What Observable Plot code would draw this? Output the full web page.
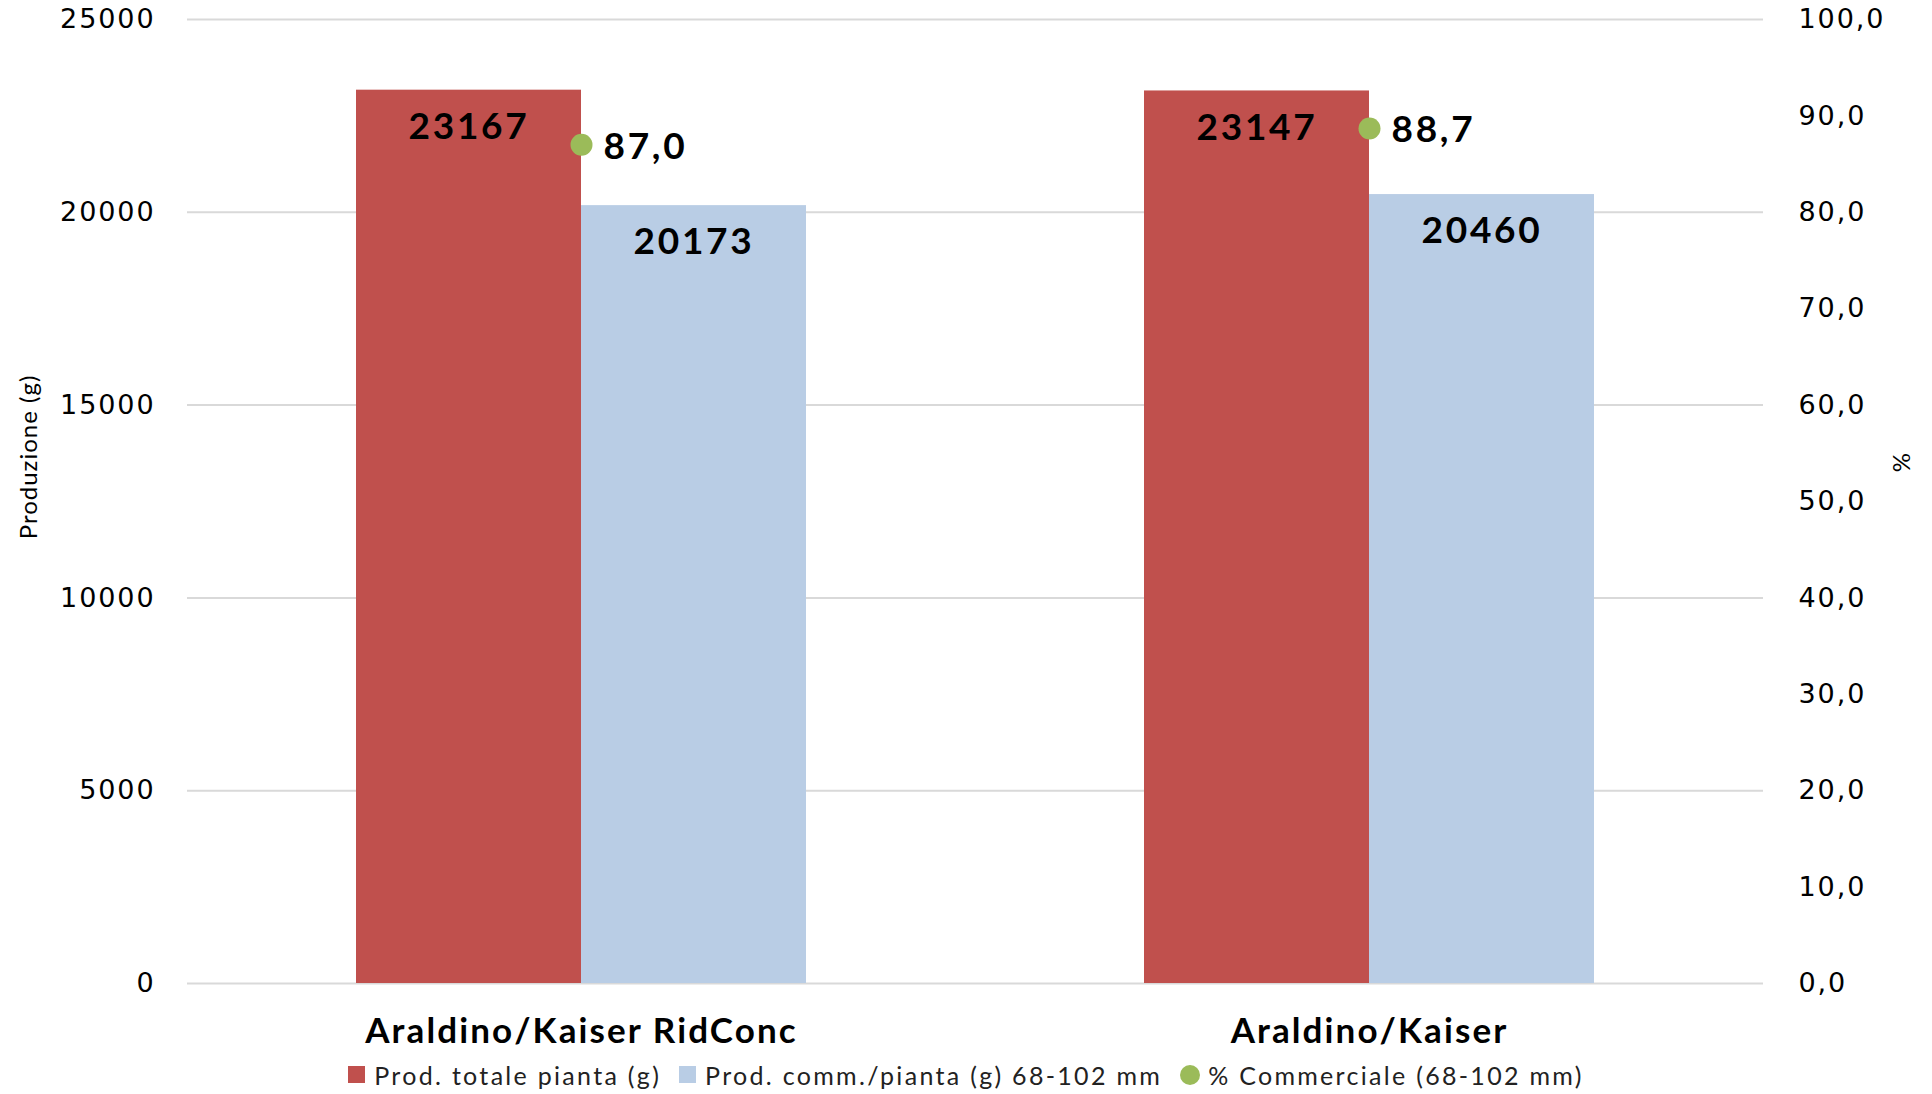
<!DOCTYPE html>
<html>
<head>
<meta charset="utf-8">
<script src="https://cdn.jsdelivr.net/npm/d3@7"></script>
<script src="https://cdn.jsdelivr.net/npm/@observablehq/plot@0.6"></script>
<style>
  html, body { margin: 0; padding: 0; background: #fff; }
  #wrap { position: relative; width: 1932px; height: 1094px; overflow: hidden; }
  .ytitle { position: absolute; font-family: Lato, sans-serif; font-size: 24px; letter-spacing: 1px; color: #000; white-space: nowrap; transform: translate(-50%, -50%) rotate(-90deg); }
  #legend { position: absolute; left: 0; top: 1055px; width: 1932px; height: 39px; display: flex; justify-content: center; align-items: center; font-family: Lato, sans-serif; font-size: 25px; letter-spacing: 2.3px; color: #222; }
  .item { display: flex; align-items: center; }
  .sw { width: 17px; height: 17px; margin-right: 9px; }
  .circ { width: 20px; height: 20px; border-radius: 50%; margin-right: 8px; }
  g[aria-label="y-axis tick label"] { letter-spacing: 1.9px; }
  g[aria-label="fx-axis tick label"] { letter-spacing: 2.1px; }
  g[aria-label="text"] { letter-spacing: 2.7px; }
</style>
</head>
<body>
<div id="wrap">
  <div id="chart"></div>
  <div class="ytitle" style="left:27px; top:457px;">Produzione (g)</div>
  <div class="ytitle" style="left:1900px; top:462px;">%</div>
  <div id="legend"></div>
</div>
<script>
const groups = ["Araldino/Kaiser RidConc", "Araldino/Kaiser"];
const seriesNames = ["Prod. totale pianta (g)", "Prod. comm./pianta (g) 68-102 mm"];
const totale = [23167, 23147];
const commerciale = [20173, 20460];
const pctName = "% Commerciale (68-102 mm)";
const pctValues = [87.0, 88.7];
const leftTicks = [0, 5000, 10000, 15000, 20000, 25000];
const rightTicks = [0, 10, 20, 30, 40, 50, 60, 70, 80, 90, 100];
const colors = ["#C0504D", "#B9CDE5"];
const pctColor = "#9BBB59";

const yMax = 25000, pctMax = 100;
const toY = p => p * yMax / pctMax;

const bars = [];
groups.forEach((g, i) => {
  bars.push({group: g, series: seriesNames[0], value: totale[i]});
  bars.push({group: g, series: seriesNames[1], value: commerciale[i]});
});
const pcts = groups.map((g, i) => ({group: g, pct: pctValues[i]}));

const plot = Plot.plot({
  width: 1932,
  height: 1055,
  marginTop: 19,
  marginBottom: 72,
  marginLeft: 187,
  marginRight: 169,
  style: {background: "#fff", color: "#000"},
  fx: {domain: groups, padding: 0, axis: null},
  x: {domain: seriesNames, paddingInner: 0, paddingOuter: 0.75, axis: null},
  y: {domain: [0, yMax], axis: null},
  color: {domain: seriesNames, range: colors},
  marks: [
    Plot.gridY(leftTicks, {stroke: "#D9D9D9", strokeOpacity: 1, strokeWidth: 2}),
    Plot.barY(bars, {fx: "group", x: "series", y: "value", fill: "series"}),
    Plot.text(bars, {fx: "group", x: "series", y: "value", text: d => String(d.value), dy: 37,
      fontFamily: "Lato, sans-serif", fontWeight: 700, fontSize: 37, fill: "#000"}),
    Plot.dot(pcts, {fx: "group", y: d => toY(d.pct), r: 11, fill: pctColor, stroke: null}),
    Plot.text(pcts, {fx: "group", y: d => toY(d.pct), text: d => d.pct.toFixed(1).replace(".", ","),
      textAnchor: "start", dx: 22, dy: 2, fontFamily: "Lato, sans-serif", fontWeight: 700, fontSize: 37, fill: "#000"}),
    Plot.axisY(leftTicks, {anchor: "left", tickSize: 0, tickPadding: 32, tickFormat: d => String(d),
      fontFamily: "DejaVu Sans, sans-serif", fontSize: 27, label: null}),
    Plot.axisY(rightTicks.map(toY), {anchor: "right", tickSize: 0, tickPadding: 35,
      tickFormat: d => (d * pctMax / yMax).toFixed(1).replace(".", ","),
      fontFamily: "DejaVu Sans, sans-serif", fontSize: 27, label: null}),
    Plot.axisFx({anchor: "bottom", tickSize: 0, tickPadding: 35, label: null,
      fontFamily: "Lato, sans-serif", fontWeight: 700, fontSize: 35})
  ]
});
document.getElementById("chart").appendChild(plot);

const legend = document.getElementById("legend");
const items = [
  {name: seriesNames[0], color: colors[0], shape: "sw"},
  {name: seriesNames[1], color: colors[1], shape: "sw"},
  {name: pctName, color: pctColor, shape: "circ"}
];
items.forEach((it, i) => {
  const el = document.createElement("div");
  el.className = "item";
  if (i > 0) el.style.marginLeft = "18px";
  const sw = document.createElement("span");
  sw.className = it.shape;
  sw.style.background = it.color;
  const t = document.createElement("span");
  t.textContent = it.name;
  el.appendChild(sw); el.appendChild(t);
  legend.appendChild(el);
});
</script>
</body>
</html>
